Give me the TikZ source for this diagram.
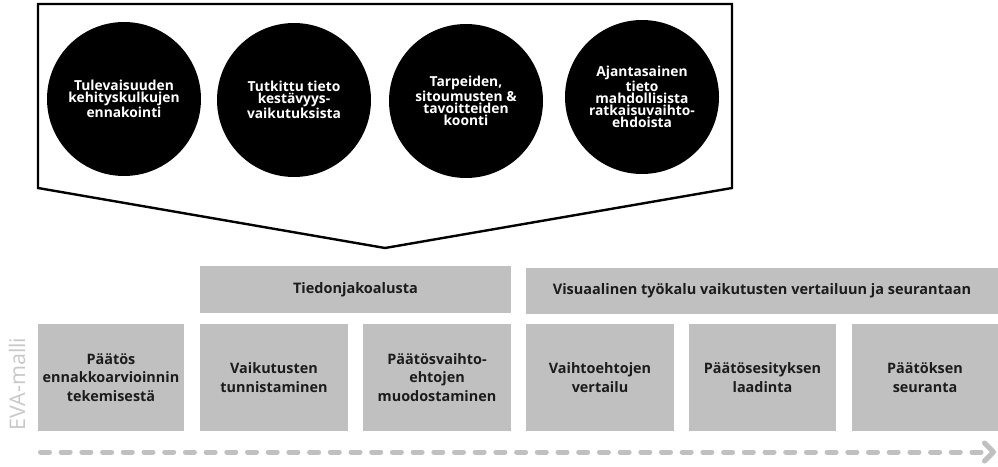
\documentclass[tikz,border=0pt]{standalone}
\usepackage{fontspec}
\setmainfont{Open Sans}
\usetikzlibrary{arrows.meta}
\definecolor{boxgray}{RGB}{192,192,192}
\definecolor{boxtext}{RGB}{28,28,28}
\definecolor{evagray}{RGB}{200,200,200}
\definecolor{arrgray}{RGB}{192,192,192}
\tikzset{
  dot/.style={circle,fill=black,minimum size=154pt,inner sep=0pt,text=white,align=center,
    font=\fontsize{13.8}{12}\selectfont\bfseries},
  stepbox/.style={rectangle,fill=boxgray,inner sep=0pt,minimum height=107pt,text=boxtext,align=center,
    font=\fontsize{14.4}{18.3}\selectfont\bfseries},
  toolbox/.style={rectangle,fill=boxgray,inner sep=0pt,text=boxtext,align=center,
    font=\fontsize{14.5}{15}\selectfont\bfseries},
  frame/.style={draw=black,line width=2.4pt,line join=miter},
}
\begin{document}
\begin{tikzpicture}[x=1pt,y=-1pt]
\useasboundingbox (0,0) rectangle (998,466);
% pentagon frame
\draw[frame] (38,4) -- (732,4) -- (732,188) -- (385,248) -- (38,188) -- cycle;
% circles
\node[dot] (c1) at (124,99) {Tulevaisuuden\\kehityskulkujen\\ennakointi};
\node[dot] (c2) at (294,100) {Tutkittu tieto\\kestävyys-\\vaikutuksista};
\node[dot] (c3) at (466,101) {Tarpeiden,\\sitoumusten \&\\tavoitteiden\\koonti};
\node[dot] (c4) at (642,97) {Ajantasainen\\tieto\\mahdollisista\\ratkaisuvaihto-\\ehdoista};
% tool boxes
\node[toolbox,minimum width=311pt,minimum height=47pt] (t1) at (355.5,289.5) {Tiedonjakoalusta};
\node[toolbox,minimum width=472pt,minimum height=46pt] (t2) at (762,291) {Visuaalinen työkalu vaikutusten vertailuun ja seurantaan};
% step boxes
\node[stepbox,minimum width=146pt] (b1) at (111,377.5) {Päätös\\ennakkoarvioinnin\\tekemisestä};
\node[stepbox,minimum width=148pt] (b2) at (274,377.5) {Vaikutusten\\tunnistaminen};
\node[stepbox,minimum width=148pt] (b3) at (437,377.5) {Päätösvaihto-\\ehtojen\\muodostaminen};
\node[stepbox,minimum width=148pt] (b4) at (600,377.5) {Vaihtoehtojen\\vertailu};
\node[stepbox,minimum width=147pt] (b5) at (762.5,377.5) {Päätösesityksen\\laadinta};
\node[stepbox,minimum width=146pt] (b6) at (925,377.5) {Päätöksen\\seuranta};
% side label
\node[rotate=90,text=evagray,font=\fontsize{21.5}{21.5}\selectfont] (eva) at (17,384) {EVA-malli};
% dashed arrow
\coordinate (aS) at (40.5,452);
\coordinate (aE) at (996,452);
\draw[arrgray,line width=5pt,line cap=round,dash pattern=on 9pt off 11.7pt,
  -{Straight Barb[length=9pt,width=18pt,line cap=round,line join=round]}] (aS) -- (aE);
\end{tikzpicture}
\end{document}
